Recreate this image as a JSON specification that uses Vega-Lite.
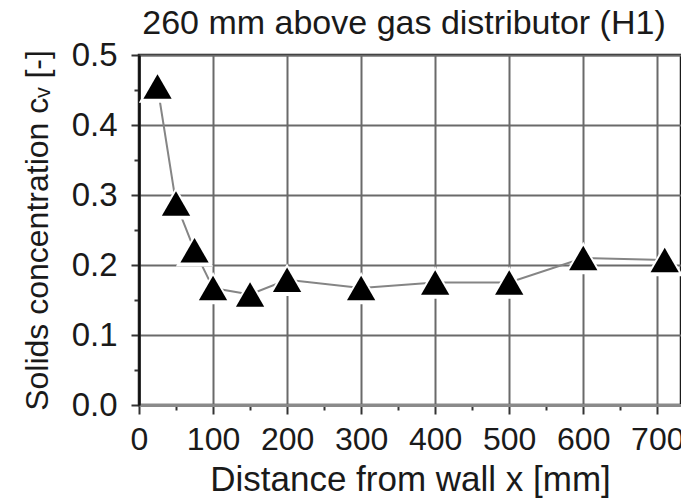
{
  "$schema": "https://vega.github.io/schema/vega-lite/v6.json",
  "autosize": {"type": "none"},
  "padding": {"left": 139, "top": 55, "right": 0, "bottom": 94},
  "width": 542,
  "height": 350,
  "background": "white",
  "config": {
    "font": "Liberation Sans",
    "view": {"stroke": "#1a1a1a", "strokeWidth": 2.5}
  },
  "title": {
    "text": "260 mm above gas distributor (H1)",
    "font": "Liberation Sans",
    "fontSize": 34,
    "fontWeight": "normal",
    "color": "#1a1a1a",
    "anchor": "middle",
    "frame": "group",
    "baseline": "bottom",
    "offset": -36,
    "dx": -6
  },
  "data": {
    "values": [
      {"x": 25, "c": 0.455},
      {"x": 50, "c": 0.288},
      {"x": 75, "c": 0.221},
      {"x": 100, "c": 0.167},
      {"x": 150, "c": 0.158},
      {"x": 200, "c": 0.179},
      {"x": 300, "c": 0.167},
      {"x": 400, "c": 0.175},
      {"x": 500, "c": 0.175},
      {"x": 600, "c": 0.210},
      {"x": 710, "c": 0.207}
    ]
  },
  "encoding": {
    "x": {
      "field": "x",
      "type": "quantitative",
      "scale": {"domain": [0, 732], "nice": false, "zero": false},
      "axis": {
        "title": "Distance from wall x [mm]",
        "values": [0, 50, 100, 150, 200, 250, 300, 350, 400, 450, 500, 550, 600, 650, 700],
        "labelExpr": "datum.value % 100 == 0 ? format(datum.value, 'd') : ''",
        "labelFont": "Liberation Sans",
        "labelFontSize": 32,
        "labelColor": "#1a1a1a",
        "labelPadding": 10,
        "labelFlush": false,
        "labelOverlap": false,
        "titleFont": "Liberation Sans",
        "titleFontSize": 35,
        "titleFontWeight": "normal",
        "titleColor": "#1a1a1a",
        "titlePadding": 7,
        "domainColor": "#8a8a8a",
        "domainWidth": 3,
        "tickColor": "#333333",
        "tickWidth": 2,
        "tickSize": {"condition": {"test": "datum.value % 100 != 0", "value": 5}, "value": 9},
        "grid": true,
        "gridColor": "#6a6a6a",
        "gridWidth": 2,
        "gridOpacity": {"condition": {"test": "datum.value % 100 != 0", "value": 0}, "value": 1}
      }
    },
    "y": {
      "field": "c",
      "type": "quantitative",
      "scale": {"domain": [0, 0.5], "nice": false},
      "axis": {
        "title": "Solids concentration cᵥ [-]",
        "values": [0, 0.05, 0.1, 0.15, 0.2, 0.25, 0.3, 0.35, 0.4, 0.45, 0.5],
        "labelExpr": "round(datum.value * 100) % 10 == 0 ? format(datum.value, '.1f') : ''",
        "labelFont": "Liberation Sans",
        "labelFontSize": 33,
        "labelColor": "#1a1a1a",
        "labelPadding": 14,
        "labelFlush": false,
        "labelOverlap": false,
        "titleFont": "Liberation Sans",
        "titleFontSize": 32,
        "titleFontWeight": "normal",
        "titleColor": "#1a1a1a",
        "titlePadding": 17,
        "domainColor": "#111111",
        "domainWidth": 2.5,
        "tickColor": "#333333",
        "tickWidth": 2,
        "tickSize": {"condition": {"test": "round(datum.value * 100) % 10 != 0", "value": 5}, "value": 8},
        "grid": true,
        "gridColor": "#6a6a6a",
        "gridWidth": 2,
        "gridOpacity": {"condition": {"test": "round(datum.value * 100) % 10 != 0", "value": 0}, "value": 1}
      }
    }
  },
  "layer": [
    {"mark": {"type": "line", "color": "#858585", "strokeWidth": 2}},
    {"mark": {"type": "point", "shape": "triangle-up", "filled": true, "color": "white", "opacity": 1, "size": 1400}},
    {"mark": {"type": "point", "shape": "triangle-up", "filled": true, "color": "black", "opacity": 1, "size": 800}}
  ]
}
